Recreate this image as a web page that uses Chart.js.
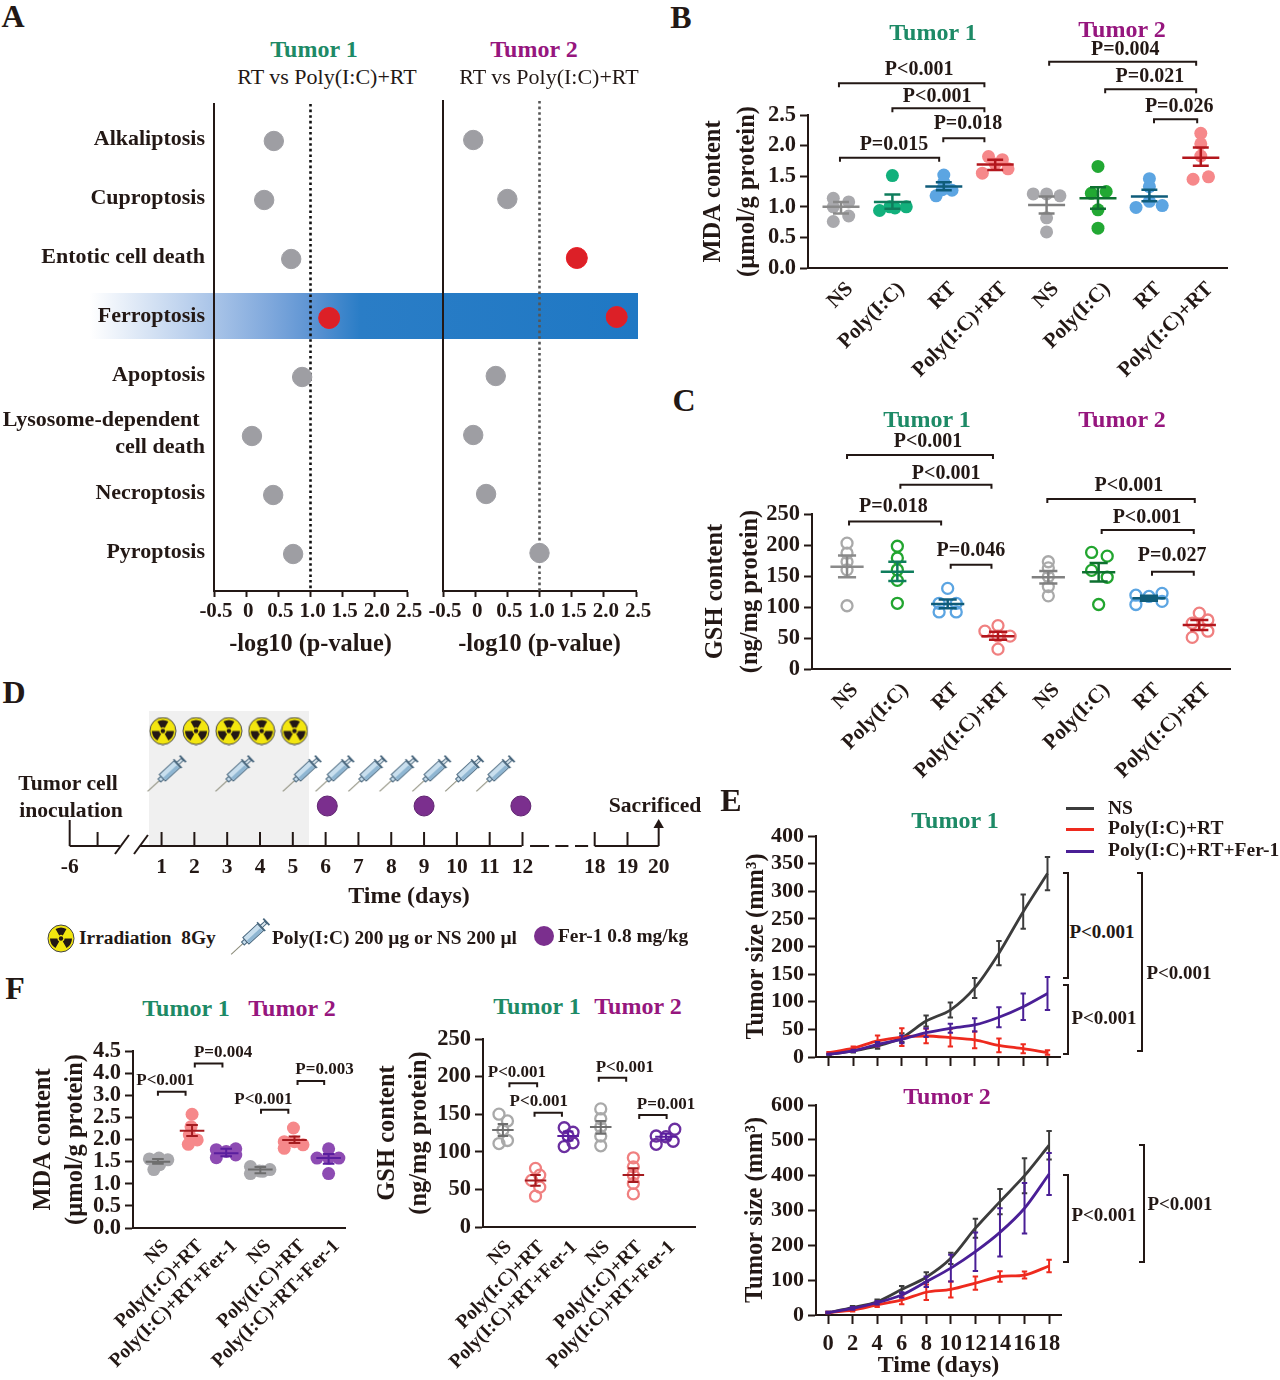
<!DOCTYPE html>
<html>
<head>
<meta charset="utf-8">
<title>Figure</title>
<script src="https://cdn.jsdelivr.net/npm/chart.js@4/dist/chart.umd.min.js"></script>
<style>
	html, body { margin: 0; padding: 0; background: #fff; }
	#stage { position: relative; width: 1280px; height: 1380px; overflow: hidden; font-family: 'Liberation Serif', serif; color: #231815; }
	#stage canvas { position: absolute; }
	.txt { position: absolute; white-space: nowrap; line-height: 1; font-weight: bold; transform: translate(-50%, -50%); }
	.box { position: absolute; }
</style>
</head>
<body>
<div id="stage"></div>
<script>
// panel A
var deathTypes = ['Alkaliptosis', 'Cuproptosis', 'Entotic cell death', 'Ferroptosis', 'Apoptosis', ['Lysosome-dependent\u00a0', 'cell death'], 'Necroptosis', 'Pyroptosis'];
var logTicks = [-0.5, 0, 0.5, 1, 1.5, 2, 2.5];
var logLabels = ['-0.5', '0', '0.5', '1.0', '1.5', '2.0', '2.5'];
var tumor1LogP = [0.43, 0.28, 0.70, 1.29, 0.87, 0.09, 0.42, 0.73];
var tumor2LogP = [-0.03, 0.5, 1.58, 2.2, 0.32, -0.03, 0.17, 1.0];

// panel B
var groupsB = ['NS', 'Poly(I:C)', 'RT', 'Poly(I:C)+RT', 'NS', 'Poly(I:C)', 'RT', 'Poly(I:C)+RT'];
var mdaTicks = [0, 0.5, 1, 1.5, 2, 2.5];
var mdaLabels = ['0.0', '0.5', '1.0', '1.5', '2.0', '2.5'];
var mdaValues = [
	[1.14, 1.08, 1.0, 0.85, 0.76],
	[1.51, 0.94, 1.0, 0.98, 1.0],
	[1.52, 1.40, 1.18, 1.27, 1.28],
	[1.82, 1.77, 1.55, 1.62, 1.70],
	[1.21, 1.21, 1.18, 0.82, 0.59],
	[1.66, 1.22, 1.25, 0.95, 0.65],
	[1.46, 1.33, 0.99, 1.02, 1.09],
	[2.2, 2.03, 1.83, 1.45, 1.49]
];
var mdaJitter = [
	[-0.15, 0.15, -0.15, 0.15, -0.15],
	[0, -0.25, -0.05, 0.05, 0.27],
	[0, 0, -0.15, 0.16, -0.03],
	[-0.13, 0.14, -0.25, 0.25, 0],
	[-0.26, 0, 0.26, 0, 0],
	[0, -0.13, 0.16, 0, 0],
	[0, 0, -0.26, 0.25, 0],
	[0, 0, 0, -0.15, 0.15]
];
var mdaMeans = [1.0, 1.08, 1.33, 1.69, 1.03, 1.14, 1.17, 1.80];
var mdaLow = [0.89, 0.97, 1.27, 1.6, 0.89, 0.97, 1.09, 1.67];
var mdaHigh = [1.08, 1.2, 1.40, 1.77, 1.17, 1.32, 1.28, 1.97];
// x1, x2, y, label, label x, label y (in axis units)
var mdaBrackets = [
	[-0.04, 2.79, 3.02, 'P<0.001', 1.52, 3.24],
	[1.0, 2.79, 2.61, 'P<0.001', 1.87, 2.79],
	[1.99, 2.79, 2.12, 'P=0.018', 2.47, 2.35],
	[-0.02, 1.91, 1.80, 'P=0.015', 1.03, 2.01],
	[4.05, 6.91, 3.37, 'P=0.004', 5.53, 3.56],
	[5.14, 6.91, 2.92, 'P=0.021', 6.01, 3.12],
	[6.09, 6.93, 2.43, 'P=0.026', 6.58, 2.63]
];

// panel C
var gshTicks = [0, 50, 100, 150, 200, 250];
var gshValues = [
	[203, 187, 173, 160, 102],
	[198, 179, 160, 143, 106],
	[130, 106, 106, 92, 92],
	[70, 61, 53, 53, 32],
	[173, 163, 149, 133, 118],
	[188, 182, 159, 148, 104],
	[119, 117, 122, 104, 109],
	[90, 74, 79, 61, 51]
];
var gshJitter = [
	[0, 0, 0, 0, 0],
	[0, 0, 0, 0, 0],
	[0, -0.17, 0.17, -0.17, 0.17],
	[0, -0.26, 0.24, 0, 0],
	[0, 0, 0, 0, 0],
	[-0.14, 0.17, -0.14, 0.17, 0],
	[-0.26, 0, 0.26, -0.26, 0.26],
	[0, -0.14, 0.17, 0.17, -0.14]
];
var gshMeans = [165, 157, 105, 53, 148, 156, 114, 71];
var gshLow = [148, 142, 98, 47, 138, 141, 110, 63];
var gshHigh = [183, 173, 112, 60, 158, 171, 118, 79];
var gshBrackets = [
	[0, 2.9, 345, 'P<0.001', 1.61, 366],
	[1.06, 2.87, 297, 'P<0.001', 1.97, 315],
	[0.04, 1.87, 238, 'P=0.018', 0.92, 261],
	[2.06, 2.87, 168, 'P=0.046', 2.46, 191],
	[3.98, 6.91, 274, 'P<0.001', 5.6, 295],
	[5.06, 6.89, 224, 'P<0.001', 5.96, 243.6],
	[6.06, 6.89, 157, 'P=0.027', 6.46, 182]
];

// panel D, slots are places along the broken time axis
var daySlots = [-1.8, 1, 2, 3, 4, 5, 6, 7, 8, 9, 10, 11, 12, 14.2, 15.2, 16.15];
var dayLabels = ['-6', '1', '2', '3', '4', '5', '6', '7', '8', '9', '10', '11', '12', '18', '19', '20'];
var irradiationSlots = [1.04, 2.05, 3.05, 4.05, 5.05];
var injectionSlots = [1.18, 3.25, 5.3, 6.3, 7.3, 8.25, 9.25, 10.25, 11.2];
var ferSlots = [6.05, 9, 11.95];

// panel E
var days = [0, 2, 4, 6, 8, 10, 12, 14, 16, 18];
var e1Ticks = [0, 50, 100, 150, 200, 250, 300, 350, 400];
var e1NS = [5, 11, 20, 35, 65, 85, 125, 188, 263, 332];
var e1NSErr = [1, 3, 5, 8, 10, 13.5, 18, 22, 31, 30];
var e1RT = [8, 16, 29, 36, 38, 35, 31, 21, 15, 8];
var e1RTErr = [1, 3, 10, 16, 13, 16, 15, 12.6, 8, 4];
var e1Fer = [5, 11, 23, 32, 44, 52, 58, 72, 91, 115];
var e1FerErr = [1, 2, 4, 7, 8, 8, 12, 18, 24, 30];
var e2Ticks = [0, 100, 200, 300, 400, 500, 600];
var e2NS = [7, 21, 38, 73, 108, 162, 248, 324, 398, 485];
var e2NSErr = [2, 5, 6, 10, 14, 16, 27, 36, 50, 41];
var e2RT = [7, 14, 29, 43, 65, 73, 91, 110, 114, 140];
var e2RTErr = [2, 4, 6, 12, 22, 23, 19, 15, 10, 18];
var e2Fer = [7, 19, 35, 57, 95, 134, 181, 236, 305, 403];
var e2FerErr = [2, 4, 5, 8, 15, 38, 55, 69, 72, 60];

// panel F
var groupsF = ['NS', 'Poly(I:C)+RT', 'Poly(I:C)+RT+Fer-1', 'NS', 'Poly(I:C)+RT', 'Poly(I:C)+RT+Fer-1'];
var fMdaTicks = [0, 0.5, 1, 1.5, 2, 2.5, 3, 3.5, 4];
var fMdaLabels = ['0.0', '0.5', '1.0', '1.5', '2.0', '2.5', '3.0', '4.0', '4.5'];
var fMdaValues = [
	[1.58, 1.56, 1.54, 1.43, 1.32],
	[2.57, 2.29, 2.1, 1.99, 1.89],
	[1.77, 1.79, 1.73, 1.59, 1.65],
	[1.39, 1.23, 1.28, 1.32, 1.29],
	[2.26, 1.95, 1.88, 1.80, 1.95],
	[1.79, 1.58, 1.58, 1.58, 1.23]
];
var fMdaJitter = [
	[0.03, -0.25, 0.29, 0.05, -0.12],
	[0, -0.03, -0.08, 0.15, -0.11],
	[-0.29, 0.28, 0, -0.29, 0.28],
	[-0.29, -0.29, 0.07, 0.28, -0.03],
	[-0.03, -0.3, 0.25, -0.3, 0],
	[0, -0.34, 0.3, 0, 0]
];
var fMdaMeans = [1.5, 2.2, 1.69, 1.32, 1.99, 1.58];
var fMdaLow = [1.45, 2.08, 1.62, 1.24, 1.92, 1.45];
var fMdaHigh = [1.56, 2.33, 1.79, 1.38, 2.07, 1.67];
var fMdaBrackets = [
	[0, 0.81, 3.08, 'P<0.001', 0.22, 3.32],
	[1.08, 1.89, 3.72, 'P=0.004', 1.91, 3.96],
	[3.02, 3.82, 2.67, 'P<0.001', 3.09, 2.91],
	[4.09, 4.87, 3.32, 'P=0.003', 4.88, 3.57]
];
var fGshValues = [
	[150, 141, 129, 115, 111],
	[78, 69, 62, 53, 41],
	[132, 126, 121, 112, 107],
	[157, 144, 133, 121, 108],
	[92, 80, 69, 58, 44],
	[121, 130, 120, 110, 114]
];
var fGshJitter = [
	[-0.12, 0.14, 0, 0.14, -0.12],
	[0, 0.13, -0.12, 0.13, 0],
	[-0.12, 0.15, 0, 0.15, -0.12],
	[0, 0, 0, 0, 0],
	[0, 0, 0, 0, 0],
	[-0.3, 0.27, 0, -0.3, 0.22]
];
var fGshMeans = [129, 62, 121, 133, 69, 120];
var fGshLow = [121, 55, 115, 124, 60, 116];
var fGshHigh = [137, 69, 127, 141, 78, 124];
var fGshBrackets = [
	[0.2, 1.05, 191, 'P<0.001', 0.43, 205.6],
	[0.97, 1.81, 152, 'P<0.001', 1.10, 166.5],
	[2.94, 3.78, 198.5, 'P<0.001', 3.74, 212],
	[4.18, 5.02, 148.8, 'P=0.001', 5.0, 163]
];

var FONT = "'Liberation Serif', serif";
var INK = '#231815';
var GREEN = '#1d8a66';
var MAGENTA = '#96167e';
var stage = document.getElementById('stage');

Chart.defaults.animation = false;
Chart.defaults.events = [];
Chart.defaults.font.family = FONT;
Chart.defaults.color = INK;
Chart.defaults.plugins.legend.display = false;
Chart.defaults.plugins.tooltip.enabled = false;

// draws significance brackets through the chart's scales
Chart.register({
	id: 'brackets',
	afterDatasetsDraw: function (chart, args, opts) {
		if (!opts.items) return;
		var ctx = chart.ctx, x = chart.scales.x, y = chart.scales.y;
		ctx.save();
		ctx.strokeStyle = INK;
		ctx.fillStyle = INK;
		ctx.lineWidth = 2;
		ctx.font = 'bold ' + opts.size + 'px ' + FONT;
		ctx.textAlign = 'center';
		ctx.textBaseline = 'middle';
		opts.items.forEach(function (b) {
			var x1 = x.getPixelForValue(b[0]), x2 = x.getPixelForValue(b[1]), py = y.getPixelForValue(b[2]);
			ctx.beginPath();
			ctx.moveTo(x1, py + 4);
			ctx.lineTo(x1, py);
			ctx.lineTo(x2, py);
			ctx.lineTo(x2, py + 4);
			ctx.stroke();
			ctx.fillText(b[3], x.getPixelForValue(b[4]), y.getPixelForValue(b[5]));
		});
		ctx.restore();
	}
});

function addText(text, cx, cy, size, color, weight, left) {
	var el = document.createElement('div');
	el.className = 'txt';
	el.textContent = text;
	el.style.left = cx + 'px';
	el.style.top = cy + 'px';
	el.style.fontSize = size + 'px';
	if (color) el.style.color = color;
	if (weight) el.style.fontWeight = weight;
	if (left) el.style.transform = 'translate(0, -50%)';
	stage.appendChild(el);
}

function addBox(x, y, w, h, background, radius) {
	var el = document.createElement('div');
	el.className = 'box';
	el.style.left = x + 'px';
	el.style.top = y + 'px';
	el.style.width = w + 'px';
	el.style.height = h + 'px';
	el.style.background = background;
	if (radius) el.style.borderRadius = radius;
	stage.appendChild(el);
	return el;
}

// vertical bracket to the right of the tumor curves
function addSideBracket(x, y1, y2) {
	addBox(x - 4, y1, 4, 2, INK);
	addBox(x - 4, y2 - 2, 4, 2, INK);
	addBox(x, y1, 2, y2 - y1, INK);
}

function fixedTicks(values) {
	return function (scale) {
		scale.ticks = values.map(function (v) { return { value: v }; });
	};
}

function fixWidth(w) {
	return function (scale) {
		scale.width = w;
		scale.paddingLeft = scale.paddingRight = scale.paddingTop = scale.paddingBottom = 0;
	};
}

function fixHeight(h) {
	return function (scale) {
		scale.height = h;
		scale.paddingLeft = scale.paddingRight = scale.paddingTop = scale.paddingBottom = 0;
	};
}

// r: plot rectangle plus the room kept round it
function makeChart(r, datasets, xScale, yScale, plugins) {
	var canvas = document.createElement('canvas');
	var width = r.axisW + (r.right - r.left) + r.padRight;
	var height = r.padTop + (r.bottom - r.top) + r.axisH;
	canvas.width = width;
	canvas.height = height;
	canvas.style.left = (r.left - r.axisW) + 'px';
	canvas.style.top = (r.top - r.padTop) + 'px';
	canvas.style.width = width + 'px';
	canvas.style.height = height + 'px';
	stage.appendChild(canvas);
	xScale.type = 'linear';
	yScale.type = 'linear';
	xScale.afterFit = fixHeight(r.axisH);
	yScale.afterFit = fixWidth(r.axisW);
	return new Chart(canvas, {
		type: 'scatter',
		data: { datasets: datasets },
		options: {
			responsive: false,
			layout: { autoPadding: false, padding: { top: r.padTop, right: r.padRight, left: 0, bottom: 0 } },
			scales: { x: xScale, y: yScale },
			plugins: plugins || {}
		}
	});
}

function axisStyle(size, tickLen, values, labels) {
	return {
		border: { color: INK, width: 2 },
		grid: { drawOnChartArea: false, drawTicks: tickLen > 0, tickLength: tickLen, tickColor: INK, tickWidth: 2 },
		afterBuildTicks: fixedTicks(values),
		ticks: {
			autoSkip: false,
			maxRotation: 0,
			font: { size: size, weight: 'bold' },
			callback: function (v, i) { return labels[i]; }
		}
	};
}

function yTitle(lines, lineHeight, size) {
	return { display: true, text: lines, color: INK, padding: 0, font: { size: size || 24.5, weight: 'bold', lineHeight: lineHeight / (size || 24.5) } };
}

// mean line, SEM caps and stem of one group, as one broken line
function meanSem(x, mean, low, high, color, meanHalf, capHalf, lineWidth) {
	var gap = { x: NaN, y: NaN };
	return {
		data: [
			{ x: x - meanHalf, y: mean }, { x: x + meanHalf, y: mean }, gap,
			{ x: x - capHalf, y: high }, { x: x + capHalf, y: high }, gap,
			{ x: x - capHalf, y: low }, { x: x + capHalf, y: low }, gap,
			{ x: x, y: low }, { x: x, y: high }
		],
		showLine: true,
		spanGaps: false,
		pointRadius: 0,
		borderColor: color,
		borderWidth: lineWidth,
		clip: false
	};
}

// dot plot groups with the mean +/- SEM on top of them
function dotGroups(values, jitter, means, low, high, dotColors, lineColors, open, meanHalf, capHalf, lineWidth) {
	var lines = [], dots = [];
	values.forEach(function (group, i) {
		lines.push(meanSem(i, means[i], low[i], high[i], lineColors[i], meanHalf, capHalf, lineWidth));
		dots.push({
			data: group.map(function (v, k) { return { x: i + jitter[i][k], y: v }; }),
			pointRadius: open ? 5.5 : 6.5,
			pointBackgroundColor: open ? 'rgba(255,255,255,0)' : dotColors[i],
			pointBorderColor: dotColors[i],
			pointBorderWidth: open ? 2.3 : 0,
			clip: false
		});
	});
	return lines.concat(dots);
}

function groupAxis(labels, min, max, size, offset, pad) {
	return {
		min: min,
		max: max,
		border: { color: INK, width: 2 },
		grid: { drawOnChartArea: false, drawTicks: false },
		afterBuildTicks: fixedTicks(labels.map(function (l, i) { return i; })),
		ticks: {
			autoSkip: false,
			minRotation: 45,
			maxRotation: 45,
			padding: pad,
			labelOffset: offset,
			font: { size: size, weight: 'bold' },
			callback: function (v, i) { return labels[i]; }
		}
	};
}

function valueAxis(min, max, values, labels, title, size) {
	var axis = axisStyle(size || 22.5, 8, values, labels);
	axis.min = min;
	axis.max = max;
	axis.ticks.padding = 4;
	axis.title = title;
	return axis;
}

/* ---------- background pieces ---------- */
addBox(90, 293, 548, 46, 'linear-gradient(to right, #ffffff 0px, #a9c4e8 124px, #7fa8dc 180px, #5a92d2 225px, #2a7dc6 270px, #1f78c4 548px)');
addBox(149, 711, 160, 135, '#f0f0f0');

/* ---------- panel A ---------- */
function logPanel(values, r, yMin, yMax, withLabels, dotColor) {
	var points = values.map(function (v, i) { return { x: v, y: i }; });
	var xAxis = axisStyle(21, 6, logTicks, logLabels);
	xAxis.min = -0.5;
	xAxis.max = 2.5;
	xAxis.ticks.padding = 2;
	xAxis.ticks.labelOffset = 2;
	xAxis.title = { display: true, text: '-log10 (p-value)', color: INK, padding: 0, font: { size: 24.3, weight: 'bold', lineHeight: 1.2 } };
	var yAxis = {
		reverse: true,
		min: yMin,
		max: yMax,
		border: { color: INK, width: 2 },
		grid: { drawOnChartArea: false, drawTicks: false },
		afterBuildTicks: fixedTicks(deathTypes.map(function (d, i) { return i; })),
		ticks: {
			display: withLabels,
			autoSkip: false,
			padding: 9,
			labelOffset: -2,
			font: { size: 22, weight: 'bold', lineHeight: 1.25 },
			callback: function (v, i) { return deathTypes[i]; }
		}
	};
	makeChart(r, [
		{
			data: points,
			pointRadius: function (c) { return c.raw.x > 1 ? 10.5 : 9.7; },
			pointBackgroundColor: function (c) { return c.raw.x > 1 ? '#dc2027' : '#9e9ea3'; },
			pointBorderColor: function (c) { return c.raw.x > 1 ? '#ea1c24' : '#9e9ea3'; },
			pointBorderWidth: 1,
			clip: false
		},
		{
			data: [{ x: 1, y: yMin }, { x: 1, y: yMax }],
			showLine: true,
			pointRadius: 0,
			borderColor: dotColor,
			borderWidth: 2.6,
			borderDash: [2.6, 3],
			clip: false
		}
	], xAxis, yAxis);
}
logPanel(tumor1LogP, { left: 214, right: 407, top: 104, bottom: 591, axisW: 214, axisH: 68, padTop: 10, padRight: 30 }, -0.627, 7.627, true, '#111');
logPanel(tumor2LogP, { left: 443, right: 636, top: 101, bottom: 591, axisW: 28, axisH: 68, padTop: 10, padRight: 30 }, -0.661, 7.644, false, '#555');

addText('A', 13, 16, 32);
addText('Tumor 1', 314, 49, 24, GREEN);
addText('Tumor 2', 534, 49, 24, MAGENTA);
addText('RT vs Poly(I:C)+RT', 327, 77, 22, null, 'normal');
addText('RT vs Poly(I:C)+RT', 549, 77, 22, null, 'normal');

/* ---------- panel B ---------- */
var dotColorsB = ['#a9a9ad', '#12b07c', '#5ca5e2', '#f6888a', '#a9a9ad', '#22a833', '#5ca5e2', '#f6888a'];
var lineColorsB = ['#8a8a8a', '#0f7d5c', '#0f5c7a', '#b3161c', '#808080', '#0e7030', '#0f5c7a', '#b3161c'];
makeChart(
	{ left: 808, right: 1227, top: 115, bottom: 268, axisW: 111, axisH: 120, padTop: 105, padRight: 40 },
	dotGroups(mdaValues, mdaJitter, mdaMeans, mdaLow, mdaHigh, dotColorsB, lineColorsB, false, 0.36, 0.155, 2.5),
	groupAxis(groupsB, -0.642, 7.51, 21, 9, 9),
	valueAxis(0, 2.5, mdaTicks, mdaLabels, yTitle(['MDA content', '(\u00b5mol/g protein)'], 34)),
	{ brackets: { items: mdaBrackets, size: 20 } }
);
addText('B', 681, 17, 32);
addText('Tumor 1', 933, 32, 24, GREEN);
addText('Tumor 2', 1122, 29, 24, MAGENTA);

/* ---------- panel C ---------- */
var dotColorsC = ['#a9a9a9', '#22a52f', '#5ca5e2', '#f08080', '#a9a9a9', '#22a52f', '#5ca5e2', '#f08080'];
makeChart(
	{ left: 812, right: 1230, top: 514, bottom: 669, axisW: 114, axisH: 125, padTop: 112, padRight: 40 },
	dotGroups(gshValues, gshJitter, gshMeans, gshLow, gshHigh, dotColorsC, lineColorsB, true, 0.33, 0.18, 2.5),
	groupAxis(groupsB, -0.696, 7.61, 21, 8, 9),
	valueAxis(0, 250, gshTicks, gshTicks, yTitle(['GSH content', '(ng/mg protein)'], 35)),
	{ brackets: { items: gshBrackets, size: 20 } }
);
addText('C', 684, 400, 32);
addText('Tumor 1', 927, 419, 24, GREEN);
addText('Tumor 2', 1122, 419, 24, MAGENTA);

/* ---------- panel D ---------- */
function radiationIcon() {
	var c = document.createElement('canvas');
	c.width = 28;
	c.height = 29;
	var ctx = c.getContext('2d');
	ctx.translate(14, 14.5);
	ctx.beginPath();
	ctx.ellipse(0, 0, 13, 13.5, 0, 0, Math.PI * 2);
	ctx.fillStyle = '#f3e60f';
	ctx.fill();
	ctx.strokeStyle = '#444';
	ctx.lineWidth = 1;
	ctx.stroke();
	ctx.fillStyle = '#231815';
	[-90, 30, 150].forEach(function (deg) {
		var a = deg * Math.PI / 180, w = 0.52;
		ctx.beginPath();
		ctx.arc(0, 0, 11, a - w, a + w);
		ctx.arc(0, 0, 3.6, a + w, a - w, true);
		ctx.closePath();
		ctx.fill();
	});
	ctx.beginPath();
	ctx.arc(0, 0, 2.2, 0, Math.PI * 2);
	ctx.fill();
	return c;
}

function syringeIcon() {
	var c = document.createElement('canvas');
	c.width = 42;
	c.height = 40;
	var ctx = c.getContext('2d');
	ctx.translate(21, 20);
	ctx.rotate(-Math.atan(36 / 39));
	ctx.lineWidth = 1;
	ctx.strokeStyle = '#8a8a78';
	ctx.beginPath();
	ctx.moveTo(-27, 0);
	ctx.lineTo(-10, 0);
	ctx.stroke();
	ctx.strokeStyle = '#47657c';
	ctx.fillStyle = '#c9dfee';
	ctx.fillRect(-11, -2, 4, 4);
	ctx.strokeRect(-11, -2, 4, 4);
	ctx.fillRect(-7, -4.5, 20, 9);
	ctx.strokeRect(-7, -4.5, 20, 9);
	ctx.fillStyle = '#8fb6d2';
	ctx.fillRect(-6, 0.5, 18, 3.5);
	ctx.fillStyle = '#47657c';
	ctx.fillRect(13, -6, 1.6, 12);
	ctx.fillStyle = '#dbe7ee';
	ctx.fillRect(14, -1.5, 6, 3);
	ctx.strokeRect(14, -1.5, 6, 3);
	ctx.fillStyle = '#47657c';
	ctx.fillRect(20, -4.5, 1.8, 9);
	return c;
}

function segment(x1, y1, x2, y2) {
	return {
		data: [{ x: x1, y: y1 }, { x: x2, y: y2 }],
		showLine: true,
		pointRadius: 0,
		borderColor: INK,
		borderWidth: 2,
		clip: false
	};
}

var timeDatasets = [];
daySlots.forEach(function (s, i) {
	// the first tick stands taller, the last one carries the arrow
	var h = i === 0 ? 26 : 14;
	if (i < daySlots.length - 1) timeDatasets.push(segment(s, 0, s, h));
});
timeDatasets.push(segment(-0.95, 0, -0.95, 14));
timeDatasets.push(segment(-1.8, 0, -0.27, 0));
timeDatasets.push(segment(-0.42, -8, 0.006, 11));
timeDatasets.push(segment(0.16, -8, 0.585, 11));
timeDatasets.push(segment(0.34, 0, 11.98, 0));
timeDatasets.push(segment(12.23, 0, 12.81, 0));
timeDatasets.push(segment(13.0, 0, 13.4, 0));
timeDatasets.push(segment(13.6, 0, 14.0, 0));
timeDatasets.push(segment(14.2, 0, 16.15, 0));
timeDatasets.push(segment(16.15, 0, 16.15, 20));
timeDatasets.push({ data: [{ x: 16.15, y: 21 }], pointStyle: 'triangle', pointRadius: 6, pointBackgroundColor: INK, pointBorderWidth: 0, clip: false });
timeDatasets.push({
	data: irradiationSlots.map(function (s) { return { x: s, y: 115 }; }),
	pointStyle: radiationIcon(),
	clip: false
});
timeDatasets.push({
	data: injectionSlots.map(function (s) { return { x: s, y: 73 }; }),
	pointStyle: syringeIcon(),
	clip: false
});
timeDatasets.push({
	data: ferSlots.map(function (s) { return { x: s, y: 40 }; }),
	pointRadius: 10,
	pointBackgroundColor: '#7b2f8e',
	pointBorderColor: '#5f2470',
	pointBorderWidth: 1,
	clip: false
});

var timeAxis = axisStyle(21.5, 0, daySlots, dayLabels);
timeAxis.min = -2.4;
timeAxis.max = 16.8;
timeAxis.border = { display: false };
timeAxis.grid = { display: false, drawTicks: false };
timeAxis.ticks.padding = 9;
makeChart(
	{ left: 50, right: 680, top: 700, bottom: 846, axisW: 0, axisH: 40, padTop: 5, padRight: 5 },
	timeDatasets,
	timeAxis,
	{ min: 0, max: 146, display: false }
);

addText('D', 14, 692, 32);
addText('Tumor cell', 68, 784, 21.7);
addText('inoculation', 71, 811, 21.7);
addText('Sacrificed', 655, 806, 21.7);
addText('Time (days)', 409, 895, 24);
var legendIrr = radiationIcon();
legendIrr.style.left = '47px';
legendIrr.style.top = '924px';
stage.appendChild(legendIrr);
var legendSyr = syringeIcon();
legendSyr.style.left = '230px';
legendSyr.style.top = '916px';
stage.appendChild(legendSyr);
addBox(534, 926, 20, 20, '#7b2f8e', '50%');
addText('Irradiation\u00a0\u00a08Gy', 79, 938, 19.4, null, null, true);
addText('Poly(I:C) 200 \u00b5g or NS 200 \u00b5l', 272, 938, 19.4, null, null, true);
addText('Fer-1 0.8 mg/kg', 558, 936, 19.4, null, null, true);

/* ---------- panel E ---------- */
var NS_COLOR = '#3c3c3c', RT_COLOR = '#ee2a1e', FER_COLOR = '#4a1f96';

function errorBars(means, errs, color) {
	var data = [], gap = { x: NaN, y: NaN };
	days.forEach(function (d, i) {
		var hi = means[i] + errs[i], lo = means[i] - errs[i];
		data.push({ x: d, y: lo }, { x: d, y: hi }, gap);
		data.push({ x: d - 0.22, y: hi }, { x: d + 0.22, y: hi }, gap);
		data.push({ x: d - 0.22, y: lo }, { x: d + 0.22, y: lo }, gap);
	});
	return { data: data, showLine: true, spanGaps: false, pointRadius: 0, borderColor: color, borderWidth: 2, clip: false };
}

function curve(means, color) {
	return {
		data: means.map(function (v, i) { return { x: days[i], y: v }; }),
		showLine: true,
		tension: 0.3,
		pointRadius: 0,
		borderColor: color,
		borderWidth: 2.8,
		clip: false
	};
}

function curveSets(ns, nsErr, rt, rtErr, fer, ferErr) {
	return [
		curve(fer, FER_COLOR), errorBars(fer, ferErr, FER_COLOR),
		curve(rt, RT_COLOR), errorBars(rt, rtErr, RT_COLOR),
		curve(ns, NS_COLOR), errorBars(ns, nsErr, NS_COLOR)
	];
}

var dayAxisTop = axisStyle(21, 9, days, days);
dayAxisTop.min = -1.07;
dayAxisTop.max = 19.03;
dayAxisTop.ticks.display = false;
makeChart(
	{ left: 816, right: 1060, top: 836, bottom: 1057, axisW: 74, axisH: 12, padTop: 8, padRight: 8 },
	curveSets(e1NS, e1NSErr, e1RT, e1RTErr, e1Fer, e1FerErr),
	dayAxisTop,
	valueAxis(0, 400, e1Ticks, e1Ticks, yTitle('Tumor size (mm\u00b3)', 30), 22)
);

var dayAxisBottom = axisStyle(22.5, 9, days, days);
dayAxisBottom.min = -0.98;
dayAxisBottom.max = 18.97;
dayAxisBottom.ticks.padding = 7;
dayAxisBottom.title = { display: true, text: 'Time (days)', color: INK, padding: 0, font: { size: 24, weight: 'bold', lineHeight: 1.2 } };
makeChart(
	{ left: 816, right: 1061, top: 1105, bottom: 1315, axisW: 75, axisH: 65, padTop: 8, padRight: 8 },
	curveSets(e2NS, e2NSErr, e2RT, e2RTErr, e2Fer, e2FerErr),
	dayAxisBottom,
	valueAxis(0, 600, e2Ticks, e2Ticks, yTitle('Tumor size (mm\u00b3)', 30), 22)
);

addText('E', 731, 800, 32);
addText('Tumor 1', 955, 820, 24, GREEN);
addText('Tumor 2', 947, 1096, 24, MAGENTA);
addBox(1066, 807, 28, 2.5, NS_COLOR);
addBox(1066, 828, 28, 2.5, RT_COLOR);
addBox(1066, 850, 28, 2.5, FER_COLOR);
addText('NS', 1108, 808, 19.5, null, null, true);
addText('Poly(I:C)+RT', 1108, 828, 19.5, null, null, true);
addText('Poly(I:C)+RT+Fer-1', 1108, 850, 19.5, null, null, true);
addSideBracket(1067, 872, 979);
addSideBracket(1067, 984, 1055);
addSideBracket(1141, 872, 1052);
addText('P<0.001', 1102, 931, 19);
addText('P<0.001', 1104, 1017, 19);
addText('P<0.001', 1179, 972, 19);
addSideBracket(1067, 1174, 1263);
addSideBracket(1143, 1144, 1263);
addText('P<0.001', 1104, 1214, 19);
addText('P<0.001', 1180, 1203, 19);

/* ---------- panel F ---------- */
var dotColorsF = ['#a9a9ad', '#f6888a', '#8d4bb3', '#a9a9ad', '#f6888a', '#8d4bb3'];
var openColorsF = ['#a9a9a9', '#f08080', '#6b2fa0', '#a9a9a9', '#f08080', '#6b2fa0'];
var lineColorsF = ['#6e6e6e', '#a51b1f', '#5a1e9e', '#6e6e6e', '#a51b1f', '#5a1e9e'];

makeChart(
	{ left: 133, right: 345, top: 1051, bottom: 1228, axisW: 105, axisH: 145, padTop: 22, padRight: 20 },
	dotGroups(fMdaValues, fMdaJitter, fMdaMeans, fMdaLow, fMdaHigh, dotColorsF, lineColorsF, false, 0.36, 0.17, 2),
	groupAxis(groupsF, -0.73, 5.48, 19.5, 8, 7),
	valueAxis(0, 4, fMdaTicks, fMdaLabels, yTitle(['MDA content', '(\u00b5mol/g protein)'], 32)),
	{ brackets: { items: fMdaBrackets, size: 17 } }
);
makeChart(
	{ left: 483, right: 695, top: 1039, bottom: 1227, axisW: 111, axisH: 150, padTop: 20, padRight: 15 },
	dotGroups(fGshValues, fGshJitter, fGshMeans, fGshLow, fGshHigh, openColorsF, lineColorsF, true, 0.33, 0.16, 2),
	groupAxis(groupsF, -0.61, 5.89, 19.5, 6, 9),
	valueAxis(0, 250, gshTicks, gshTicks, yTitle(['GSH content', '(ng/mg protein)'], 32)),
	{ brackets: { items: fGshBrackets, size: 17 } }
);
addText('F', 15, 988, 32);
addText('Tumor 1', 186, 1008, 24, GREEN);
addText('Tumor 2', 292, 1008, 24, MAGENTA);
addText('Tumor 1', 537, 1006, 24, GREEN);
addText('Tumor 2', 638, 1006, 24, MAGENTA);
</script>
</body>
</html>
